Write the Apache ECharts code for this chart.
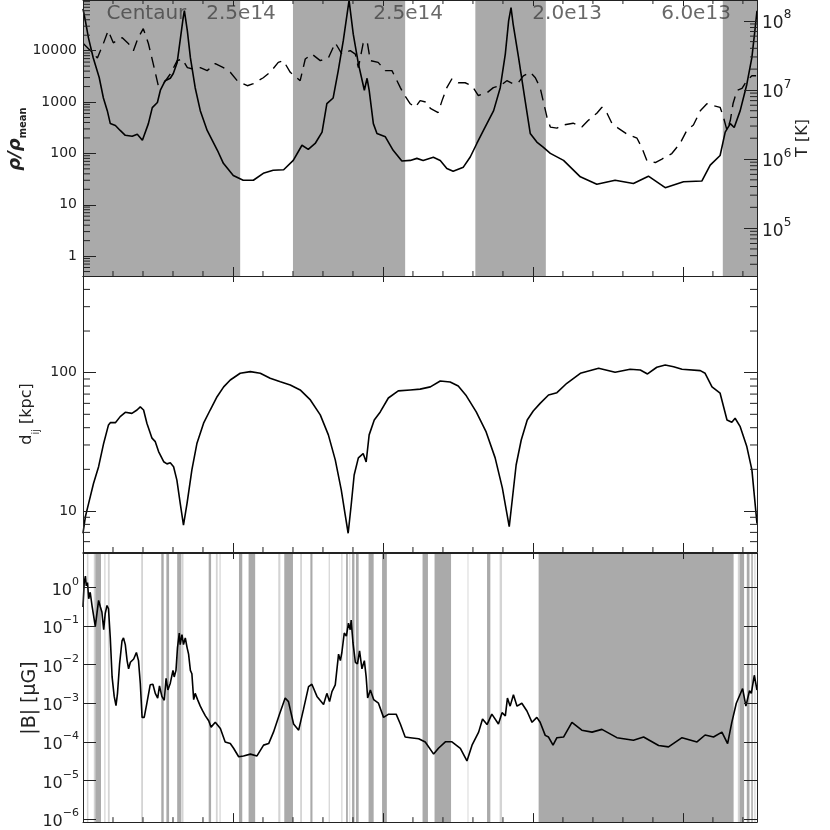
<!DOCTYPE html>
<html>
<head>
<meta charset="utf-8">
<title>sightline profiles</title>
<script src="https://cdn.jsdelivr.net/npm/echarts@6.0.0/dist/echarts.min.js"></script>
<style>
  html, body { margin: 0; padding: 0; background: #fff; }
  #main { width: 830px; height: 830px; }
</style>
</head>
<body>
<div id="main"></div>
<script>
// position along the line of sight, 5 units between major ticks
const xMax = 22.47;

// top panel: gas overdensity (solid) and temperature (dashed)
const rhoCurve = [[0,65000],[0.08,38000],[0.18,18000],[0.34,7300],[0.54,3000],[0.68,1200],[0.81,680],[0.91,380],
  [1.08,350],[1.24,280],[1.41,225],[1.64,215],[1.81,235],[1.98,180],[2.04,195],[2.18,380],[2.31,780],[2.48,980],
  [2.58,1700],[2.74,2600],[2.91,2900],[3.01,3600],[3.14,5900],[3.24,16000],[3.34,44000],[3.38,60000],[3.48,24000],
  [3.58,7300],[3.74,1900],[3.91,680],[4.14,280],[4.48,115],[4.68,64],[5.01,37],[5.34,30],[5.68,30],[6.01,41],
  [6.34,47],[6.69,48],[7.01,73],[7.30,144],[7.51,120],[7.74,156],[7.97,260],[8.13,930],[8.34,1200],[8.51,4100],
  [8.68,16000],[8.87,95000],[9.01,21000],[9.18,5600],[9.38,1700],[9.47,2900],[9.54,1700],[9.68,380],[9.80,245],
  [10.08,210],[10.34,115],[10.63,71],[10.91,73],[11.13,80],[11.34,73],[11.68,84],[11.91,73],[12.13,51],[12.34,45],
  [12.68,54],[12.91,85],[13.13,156],[13.35,280],[13.69,680],[13.91,1900],[14.08,8700],[14.19,38000],[14.27,69000],
  [14.34,33000],[14.52,7400],[14.74,1070],[14.91,245],[15.13,166],[15.34,133],[15.58,100],[16.02,73],[16.58,35],
  [17.13,25],[17.74,30],[18.35,26],[18.85,36],[19.41,21.5],[20.02,28],[20.63,29],[20.91,59],[21.24,91],[21.41,260],
  [21.58,380],[21.71,320],[21.91,680],[22.13,2200],[22.30,7400],[22.41,28000],[22.47,60000]];

const tempCurve = [[0.01,4.7e7],[0.48,2.9e7],[0.68,4.7e7],[0.84,7.2e7],[1.01,4.8e7],[1.31,5.7e7],[1.51,4.7e7],
  [1.68,3.7e7],[1.84,5.7e7],[2.01,7.7e7],[2.18,4.7e7],[2.34,2.4e7],[2.51,1.15e7],[2.68,1.23e7],[2.91,1.7e7],
  [3.14,2.65e7],[3.31,2.8e7],[3.48,2.1e7],[3.68,2.0e7],[3.91,2.1e7],[4.14,1.9e7],[4.41,2.4e7],[4.68,2.1e7],
  [4.91,1.8e7],[5.14,1.36e7],[5.48,1.15e7],[5.68,1.23e7],[6.01,1.5e7],[6.24,1.8e7],[6.51,2.5e7],[6.68,2.65e7],
  [6.91,1.8e7],[7.24,1.36e7],[7.41,2.8e7],[7.63,3.3e7],[7.91,2.65e7],[8.18,2.9e7],[8.41,4.8e7],[8.63,3.3e7],
  [8.91,3.7e7],[9.08,3.3e7],[9.18,2.1e7],[9.34,4.7e7],[9.47,5.1e7],[9.58,2.65e7],[9.84,2.5e7],[10.08,1.9e7],
  [10.3,1.9e7],[10.58,1.08e7],[10.68,8.9e6],[10.91,6.3e6],[11.08,5.6e6],[11.24,7.0e6],[11.47,6.6e6],[11.58,5.4e6],
  [11.84,4.7e6],[11.97,7.0e6],[12.13,1.08e7],[12.3,1.45e7],[12.51,1.27e7],[12.74,1.27e7],[12.97,1.15e7],
  [13.18,8.3e6],[13.47,9.1e6],[13.68,1.08e7],[13.91,1.15e7],[14.13,1.36e7],[14.34,1.23e7],[14.51,1.27e7],
  [14.68,1.6e7],[14.91,1.8e7],[15.08,1.5e7],[15.24,1.08e7],[15.47,4.0e6],[15.58,2.9e6],[15.8,2.8e6],[16.01,3.1e6],
  [16.34,3.3e6],[16.63,2.9e6],[16.84,3.6e6],[17.13,4.6e6],[17.3,5.6e6],[17.47,4.6e6],[17.63,3.3e6],[17.84,2.8e6],
  [18.13,2.3e6],[18.47,2.0e6],[18.63,1.47e6],[18.8,9.5e5],[19.08,8.9e5],[19.3,1.0e6],[19.63,1.2e6],[19.91,1.7e6],
  [20.13,2.6e6],[20.35,3.1e6],[20.58,5.0e6],[20.8,6.3e6],[21.02,5.9e6],[21.24,5.6e6],[21.34,4.2e6],[21.47,2.6e6],
  [21.58,3.6e6],[21.67,6.3e6],[21.8,9.8e6],[21.97,1.05e7],[22.13,1.36e7],[22.3,1.6e7],[22.44,1.6e7]];

// middle panel: distance d_ij in kpc
const dijCurve = [[0,6.9],[0.08,9.1],[0.19,11.4],[0.35,15.8],[0.52,20.9],[0.69,30.9],[0.85,41.9],[0.91,43.5],
  [1.08,43.5],[1.24,48.1],[1.41,51.7],[1.63,50.8],[1.8,53.7],[1.91,56.5],[2.02,53.7],[2.13,43.1],[2.3,33.6],
  [2.41,31.7],[2.52,26.9],[2.69,22.7],[2.8,21.9],[2.91,22.3],[3.02,20.9],[3.13,16.7],[3.24,11.4],[3.35,7.9],
  [3.47,11.4],[3.63,19.8],[3.8,30.9],[4.02,43.1],[4.24,53.7],[4.47,67],[4.69,79],[4.91,88.5],[5.24,99],
  [5.58,101.7],[5.91,99],[6.24,91],[6.58,86],[6.91,81.5],[7.24,75],[7.58,63.5],[7.91,49.5],[8.18,35.5],
  [8.41,23.4],[8.61,14.2],[8.74,9.4],[8.84,6.9],[8.94,11],[9.04,18.2],[9.18,24.2],[9.34,26],[9.44,22.6],
  [9.54,35.5],[9.71,45.5],[9.91,52],[10.18,65.6],[10.51,73.8],[10.91,75],[11.24,76],[11.58,78.9],[11.91,87],
  [12.24,85.7],[12.51,80],[12.78,68],[13.11,52],[13.44,37.3],[13.74,24.2],[13.98,14.7],[14.11,10.2],[14.21,7.7],
  [14.31,12],[14.44,21.5],[14.61,32.6],[14.81,45.5],[15.01,52.8],[15.24,60],[15.52,69],[15.8,71.7],[16.13,83.8],
  [16.58,99],[17.19,107.6],[17.74,100.7],[18.24,105.8],[18.58,104.6],[18.82,97.9],[19.13,109.4],[19.41,113.7],
  [19.69,110.5],[19.97,105.8],[20.58,103.4],[20.74,99],[20.97,79],[21.24,71],[21.47,45.5],[21.63,43.8],
  [21.74,46.8],[21.91,40.7],[22.13,29.2],[22.3,19.8],[22.47,8.1]];

// bottom panel: field strength |B| in microgauss
const bCurve = [[0,0.31],[0.04,1.34],[0.08,1.96],[0.11,1.1],[0.15,1.34],[0.19,0.51],[0.24,0.75],[0.3,0.34],
  [0.41,0.098],[0.47,0.098],[0.52,0.46],[0.58,0.31],[0.63,0.23],[0.69,0.08],[0.74,0.21],[0.8,0.34],[0.85,0.28],
  [0.91,0.049],[0.97,4.8e-3],[1.04,1.5e-3],[1.1,8.7e-4],[1.15,1.8e-3],[1.22,0.0105],[1.3,0.041],[1.35,0.049],
  [1.41,0.033],[1.47,0.0127],[1.52,7.8e-3],[1.58,0.0115],[1.63,0.0109],[1.69,0.014],[1.78,0.0206],[1.85,0.0127],
  [1.91,3.3e-3],[1.97,4.3e-4],[2.04,4.3e-4],[2.13,1.0e-3],[2.24,3.0e-3],[2.33,3.1e-3],[2.41,1.8e-3],[2.49,1.36e-3],
  [2.55,2.8e-3],[2.63,1.5e-3],[2.71,1.19e-3],[2.77,4.4e-3],[2.83,2.2e-3],[2.91,3.3e-3],[3.0,7.1e-3],[3.04,4.8e-3],
  [3.1,7.1e-3],[3.15,0.0276],[3.21,0.066],[3.24,0.033],[3.3,0.06],[3.35,0.033],[3.41,0.049],[3.47,0.0276],
  [3.52,0.0187],[3.58,7.1e-3],[3.63,5.8e-3],[3.69,1.24e-3],[3.74,1.8e-3],[3.82,1.24e-3],[3.91,8.4e-4],[3.99,6.3e-4],
  [4.08,4.7e-4],[4.19,3.5e-4],[4.27,2.4e-4],[4.41,3.2e-4],[4.58,2.2e-4],[4.74,9.9e-5],[4.91,9.0e-5],[5.02,6.8e-5],
  [5.19,4.1e-5],[5.35,4.3e-5],[5.58,4.8e-5],[5.8,4.3e-5],[6.02,8.2e-5],[6.19,9.0e-5],[6.35,1.78e-4],[6.55,5.2e-4],
  [6.74,1.36e-3],[6.85,1.1e-3],[7.02,2.9e-4],[7.19,2.0e-4],[7.35,6.9e-4],[7.52,2.7e-3],[7.63,3.1e-3],[7.8,1.5e-3],
  [8.02,9.3e-4],[8.13,1.8e-3],[8.22,1.1e-3],[8.3,2.0e-3],[8.41,3.0e-3],[8.47,3.3e-3],[8.52,0.0187],[8.58,0.0127],
  [8.63,0.0206],[8.71,0.066],[8.78,0.055],[8.85,0.118],[8.91,0.08],[8.94,0.143],[9.0,0.037],[9.08,0.0115],
  [9.15,0.0105],[9.22,0.0228],[9.3,7.8e-3],[9.38,0.0127],[9.44,4.8e-3],[9.49,1.36e-3],[9.58,2.2e-3],[9.69,1.24e-3],
  [9.85,1.0e-3],[10.02,4.3e-4],[10.19,5.2e-4],[10.44,5.2e-4],[10.58,2.9e-4],[10.74,1.33e-4],[10.91,1.28e-4],
  [11.19,1.2e-4],[11.41,9.9e-5],[11.69,4.8e-5],[11.85,6.8e-5],[12.08,1.0e-4],[12.3,1.0e-4],[12.58,6.8e-5],
  [12.8,3.2e-5],[12.97,8.2e-5],[13.19,1.78e-4],[13.32,3.9e-4],[13.47,2.8e-4],[13.63,5.2e-4],[13.85,2.9e-4],
  [13.97,5.7e-4],[14.08,4.7e-4],[14.15,1.36e-3],[14.24,8.4e-4],[14.35,1.66e-3],[14.47,8.4e-4],[14.63,1.0e-3],
  [14.8,6.3e-4],[14.97,3.2e-4],[15.13,4.3e-4],[15.24,3.2e-4],[15.41,1.47e-4],[15.52,1.33e-4],[15.67,8.2e-5],
  [15.8,1.28e-4],[16.02,1.33e-4],[16.3,3.2e-4],[16.63,2.0e-4],[16.97,1.78e-4],[17.3,2.1e-4],[17.8,1.28e-4],
  [18.35,1.1e-4],[18.69,1.33e-4],[19.19,8.0e-5],[19.52,7.4e-5],[19.97,1.28e-4],[20.47,9.9e-5],[20.74,1.5e-4],
  [21.02,1.33e-4],[21.3,1.78e-4],[21.49,9.0e-5],[21.63,3.2e-4],[21.78,1.0e-3],[21.99,2.4e-3],[22.1,8.4e-4],
  [22.22,2.1e-3],[22.28,1.8e-3],[22.38,5.3e-3],[22.47,2.2e-3]];

// shaded stretches (start, end)
const topBands = [[0, 5.24], [7.0, 10.74], [13.08, 15.43], [21.33, 22.47]];
const bottomBandsDark = [[0.41,0.6],[2.61,2.69],[2.78,2.87],[3.14,3.28],[4.19,4.27],[5.2,5.31],[5.52,5.74],
  [6.71,7.0],[7.58,7.65],[8.77,8.83],[8.97,9.05],[9.1,9.19],[9.52,9.69],[9.97,10.13],[11.32,11.5],[11.72,12.27],
  [13.47,13.58],[15.19,21.69],[21.89,22.04],[22.13,22.22],[22.28,22.33]];
const bottomBandsLight = [[0.13,0.18],[0.36,0.41],[0.71,0.75],[0.83,0.89],[1.94,2.0],[3.3,3.35],[4.43,4.49],
  [4.55,4.59],[6.51,6.58],[7.24,7.3],[8.19,8.23],[8.61,8.65],[8.88,8.91],[12.82,12.85],[13.89,13.97],
  [21.83,21.89],[22.38,22.42]];

// cluster names and masses written along the top
const clusterNames = ['Centaur', '2.5e14', '2.5e14', '2.0e13', '6.0e13'];
const clusterX = [0.78, 4.11, 9.68, 14.98, 19.28];

const rhoRange = [0.41, 97000];
const tRange = [2.03e4, 2.0e8];
const dRange = [5.05, 500];
const bRange = [8.3e-7, 7.8];

const FONT = 'DejaVu Sans';
const INK = '#222';

function isDecade(v) {
  const l = Math.log10(v);
  return Math.abs(l - Math.round(l)) < 1e-6;
}
function plainLabel(v) {
  return isDecade(v) ? String(Math.round(v)) : '';
}
function powLabel(v) {
  if (!isDecade(v)) return '';
  const e = Math.round(Math.log10(v));
  return '{b|10}{s|' + (e < 0 ? '\u2212' + (-e) : e) + '}';
}
function powRich(base, sup) {
  return {
    b: {fontFamily: FONT, fontSize: base, color: INK, lineHeight: base + 6, verticalAlign: 'bottom'},
    s: {fontFamily: FONT, fontSize: sup, color: INK, lineHeight: sup + 1, verticalAlign: 'top'}
  };
}

function xAx(grid, pos, len) {
  return {
    type: 'value', gridIndex: grid, position: pos, min: 0, max: xMax, interval: 5, z: 10,
    axisLine: {show: true, onZero: false, lineStyle: {color: INK, width: 1}},
    axisTick: {show: true, inside: true, length: len, lineStyle: {color: INK}},
    axisLabel: {show: false},
    splitLine: {show: false}
  };
}
function yAx(grid, pos, range, label) {
  return {
    type: 'log', logBase: 10, gridIndex: grid, position: pos, min: range[0], max: range[1], z: 10,
    axisLine: {show: true, onZero: false, lineStyle: {color: INK, width: 1}},
    axisTick: {show: true, inside: true, length: 13, lineStyle: {color: INK}},
    axisLabel: label || {show: false},
    splitLine: {show: false}
  };
}

function logMinor(range) {
  const out = [];
  for (let e = Math.floor(Math.log10(range[0])); e <= Math.ceil(Math.log10(range[1])); e++) {
    for (let k = 2; k <= 9; k++) {
      const v = k * Math.pow(10, e);
      if (v > range[0] && v < range[1]) out.push(v);
    }
  }
  return out;
}
const xMinor = [];
for (let i = 1; i < xMax; i++) if (i % 5 !== 0) xMinor.push(i);

// short tick marks the axes cannot draw themselves (log 2..9 and x minor ticks)
function tickMarks(xi, yi, dim, values, side, len, yRef) {
  return {
    type: 'custom', xAxisIndex: xi, yAxisIndex: yi, silent: true, z: 11, clip: false,
    data: values.map(v => dim === 'x' ? [v, yRef] : [1, v]),
    renderItem: function (params, api) {
      const cs = params.coordSys;
      const p = api.coord([api.value(0), api.value(1)]);
      let x1, y1, x2, y2;
      if (dim === 'x') {
        x1 = x2 = p[0];
        y1 = side === 'bottom' ? cs.y + cs.height : cs.y;
        y2 = side === 'bottom' ? y1 - len : y1 + len;
      } else {
        y1 = y2 = p[1];
        x1 = side === 'left' ? cs.x : cs.x + cs.width;
        x2 = side === 'left' ? x1 + len : x1 - len;
      }
      return {type: 'line', shape: {x1: x1, y1: y1, x2: x2, y2: y2}, style: {stroke: INK, lineWidth: 1}};
    }
  };
}

function bandSeries(xi, yi, bands, color) {
  return {
    type: 'line', xAxisIndex: xi, yAxisIndex: yi, data: [], z: 1, silent: true,
    markArea: {
      silent: true, label: {show: false},
      itemStyle: {color: color, borderWidth: 0},
      data: bands.map(b => [{xAxis: b[0]}, {xAxis: b[1]}])
    }
  };
}

const chart = echarts.init(document.getElementById('main'));

const option = {
  animation: false,
  backgroundColor: '#fff',
  grid: [
    {left: 83, top: -1, width: 674, height: 277},
    {left: 83, top: 276, width: 674, height: 276},
    {left: 83, top: 553, width: 674, height: 276}
  ],
  xAxis: [
    xAx(0, 'bottom', 9), xAx(0, 'top', 6),
    xAx(1, 'bottom', 9), xAx(1, 'top', 6),
    xAx(2, 'bottom', 9), xAx(2, 'top', 6)
  ],
  yAxis: [
    yAx(0, 'left', rhoRange, {show: true, formatter: plainLabel, fontFamily: FONT, fontSize: 14, color: INK, margin: 6}),
    yAx(0, 'right', tRange, {show: true, formatter: powLabel, margin: 5, rich: powRich(17, 12)}),
    yAx(1, 'left', dRange, {show: true, formatter: plainLabel, fontFamily: FONT, fontSize: 14, color: INK, margin: 6}),
    yAx(1, 'right', dRange),
    yAx(2, 'left', bRange, {show: true, formatter: powLabel, margin: 4, rich: powRich(16, 11)}),
    yAx(2, 'right', bRange)
  ],
  graphic: [
    {type: 'text', x: 17, y: 139, rotation: Math.PI / 2, style: {
      text: '{r|\u03c1/\u03c1}{s|mean}', align: 'center', verticalAlign: 'middle',
      rich: {
        r: {fontFamily: FONT, fontSize: 18, fontWeight: 'bold', fontStyle: 'italic', fill: INK, lineHeight: 22, verticalAlign: 'top'},
        s: {fontFamily: FONT, fontSize: 10, fontWeight: 'bold', fill: INK, lineHeight: 10, verticalAlign: 'bottom'}
      }}},
    {type: 'text', x: 803, y: 138, rotation: Math.PI / 2, style: {
      text: 'T [K]', fontFamily: FONT, fontSize: 16, fill: INK, align: 'center', verticalAlign: 'middle'}},
    {type: 'text', x: 30, y: 414, rotation: Math.PI / 2, style: {
      text: '{r|d}{s|ij}{r| [kpc]}', align: 'center', verticalAlign: 'middle',
      rich: {
        r: {fontFamily: FONT, fontSize: 16, fill: INK, lineHeight: 22, verticalAlign: 'top'},
        s: {fontFamily: FONT, fontSize: 10, fill: INK, lineHeight: 10, verticalAlign: 'bottom'}
      }}},
    {type: 'text', x: 30, y: 698, rotation: Math.PI / 2, style: {
      text: '|B| [\u03bcG]', fontFamily: FONT, fontSize: 19, fill: INK, align: 'center', verticalAlign: 'middle'}}
  ],
  series: [
    bandSeries(0, 0, topBands, '#aaaaaa'),
    bandSeries(4, 4, bottomBandsLight, '#d4d4d4'),
    bandSeries(4, 4, bottomBandsDark, '#aaaaaa'),
    {
      name: 'rho', type: 'line', xAxisIndex: 0, yAxisIndex: 0, data: rhoCurve, z: 3,
      showSymbol: false, silent: true, lineStyle: {color: '#000', width: 1.6}
    },
    {
      name: 'T', type: 'line', xAxisIndex: 0, yAxisIndex: 1, data: tempCurve, z: 3,
      showSymbol: false, silent: true, lineStyle: {color: '#000', width: 1.4, type: [11, 7]}
    },
    {
      name: 'dij', type: 'line', xAxisIndex: 2, yAxisIndex: 2, data: dijCurve, z: 3,
      showSymbol: false, silent: true, lineStyle: {color: '#000', width: 1.6}
    },
    {
      name: 'B', type: 'line', xAxisIndex: 4, yAxisIndex: 4, data: bCurve, z: 3,
      showSymbol: false, silent: true, lineStyle: {color: '#000', width: 1.6}
    },
    {
      name: 'clusters', type: 'scatter', xAxisIndex: 0, yAxisIndex: 0, z: 4, silent: true,
      symbolSize: 0, itemStyle: {color: 'rgba(0,0,0,0)'},
      data: clusterX.map((x, i) => ({value: [x, 52000], name: clusterNames[i]})),
      label: {show: true, formatter: '{b}', position: [0, 0], align: 'left', verticalAlign: 'middle',
        fontFamily: FONT, fontSize: 20, color: '#444'}
    },
    tickMarks(0, 0, 'y', logMinor(rhoRange), 'left', 7),
    tickMarks(0, 1, 'y', logMinor(tRange), 'right', 7),
    tickMarks(2, 2, 'y', logMinor(dRange), 'left', 7),
    tickMarks(2, 2, 'y', logMinor(dRange), 'right', 7),
    tickMarks(0, 0, 'x', xMinor, 'bottom', 5, 1),
    tickMarks(0, 0, 'x', xMinor, 'top', 4, 1),
    tickMarks(2, 2, 'x', xMinor, 'bottom', 5, 50),
    tickMarks(4, 4, 'x', xMinor, 'bottom', 5, 1e-3)
  ]
};

chart.setOption(option);
</script>
</body>
</html>
